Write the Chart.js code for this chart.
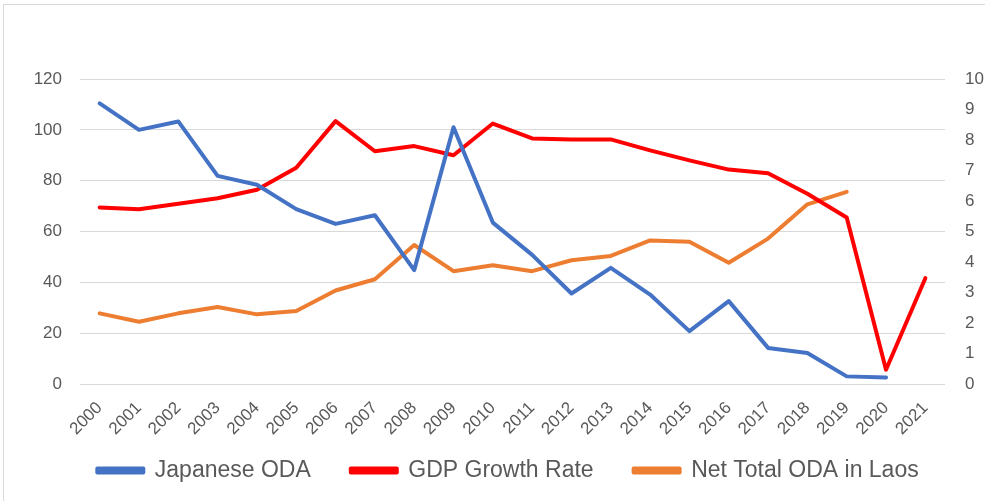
<!DOCTYPE html>
<html>
<head>
<meta charset="utf-8">
<script src="https://cdn.jsdelivr.net/npm/chart.js@4"></script>
<style>
  html, body { margin: 0; padding: 0; background: #fff; overflow: hidden; }
  #frame { position: absolute; left: 3px; top: 4px; width: 990px; height: 510px;
           border-left: 1px solid #d9d9d9; border-top: 1px solid #d9d9d9; }
  #chart { position: absolute; left: 0; top: 0; }
</style>
</head>
<body>
<div id="frame"></div>
<canvas id="chart" width="985" height="501"></canvas>
<script>
const years = ['2000','2001','2002','2003','2004','2005','2006','2007','2008','2009','2010',
               '2011','2012','2013','2014','2015','2016','2017','2018','2019','2020','2021'];
const japaneseODA = [110.4, 100, 103.3, 81.9, 78.4, 68.8, 63, 66.4, 44.8, 101, 63.5,
                     50.8, 35.6, 45.7, 35.2, 20.8, 32.6, 14.2, 12.2, 3.0, 2.6, null];
const gdpGrowth = [5.79, 5.73, 5.91, 6.09, 6.37, 7.09, 8.62, 7.63, 7.80, 7.50, 8.54,
                   8.05, 8.02, 8.02, 7.66, 7.33, 7.03, 6.91, 6.24, 5.46, 0.47, 3.47];
const netODA = [27.8, 24.5, 27.8, 30.3, 27.4, 28.7, 36.8, 41.2, 54.7, 44.4, 46.7,
                44.4, 48.7, 50.4, 56.5, 56.0, 47.7, 57.2, 70.7, 75.6, null, null];
const leftTicks = { min: 0, max: 120, step: 20 };
const rightTicks = { min: 0, max: 10, step: 1 };

const txt = '#595959';
const font = "'Liberation Sans', Arial, sans-serif";

function series(label, data, color, axis) {
  return {
    label: label, data: data, yAxisID: axis,
    borderColor: color, backgroundColor: color,
    borderWidth: 4, pointRadius: 0, tension: 0,
    borderJoinStyle: 'round', borderCapStyle: 'round', spanGaps: false
  };
}

// year labels hang below the thin x axis box; don't let them get clipped
const unclipX = {
  id: 'unclipX',
  afterLayout(chart) { chart.scales.x.bottom = chart.height; }
};

new Chart(document.getElementById('chart'), {
  type: 'line',
  data: {
    labels: years,
    datasets: [
      series('Japanese ODA', japaneseODA, '#4472C4', 'y'),
      series('GDP Growth Rate', gdpGrowth, '#FF0000', 'y1'),
      series('Net Total ODA in Laos', netODA, '#ED7D31', 'y')
    ]
  },
  plugins: [unclipX],
  options: {
    responsive: false,
    animation: false,
    layout: { padding: { left: 32, right: 1, top: 79, bottom: 9 } },
    plugins: {
      tooltip: { enabled: false },
      legend: {
        position: 'bottom',
        labels: {
          color: txt, font: { family: font, size: 23 },
          boxWidth: 46, boxHeight: 4, padding: 40
        }
      }
    },
    scales: {
      x: {
        offset: true,
        grid: { display: false },
        border: { display: false },
        ticks: { color: txt, font: { family: font, size: 17 }, minRotation: 45, maxRotation: 45,
                 autoSkip: false, padding: 6 },
        afterFit: function (s) { s.height = 35; }
      },
      y: {
        position: 'left',
        min: leftTicks.min, max: leftTicks.max,
        ticks: { stepSize: leftTicks.step, color: txt, font: { family: font, size: 17 }, padding: 18 },
        grid: { color: '#d9d9d9', lineWidth: 1, drawTicks: false },
        border: { display: false },
        afterFit: function (s) { s.width = 48; }
      },
      y1: {
        position: 'right',
        min: rightTicks.min, max: rightTicks.max,
        ticks: { stepSize: rightTicks.step, color: txt, font: { family: font, size: 17 }, padding: 20 },
        grid: { drawOnChartArea: false, drawTicks: false },
        border: { display: false },
        afterFit: function (s) { s.width = 39; }
      }
    }
  }
});
</script>
</body>
</html>
